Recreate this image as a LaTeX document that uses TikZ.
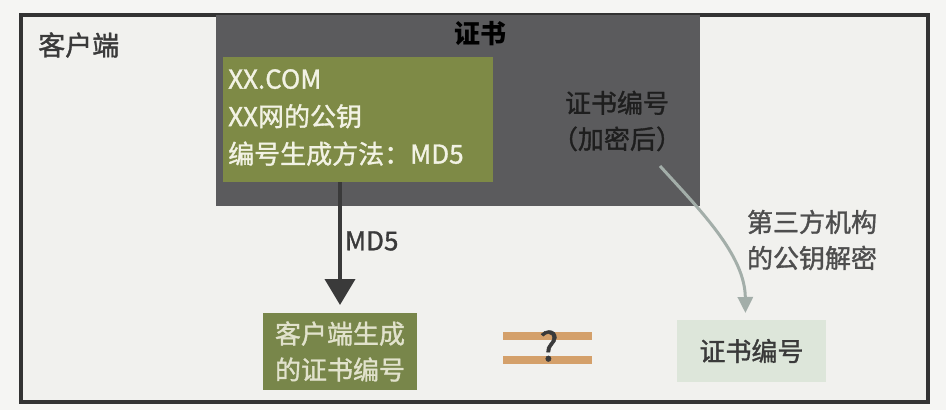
\documentclass[tikz,border=0pt]{standalone}
\usepackage{fontspec}
\setmainfont{Noto Sans CJK SC}
\newfontfamily\medfont{Noto Sans CJK SC}[FakeBold=1.3]
\usetikzlibrary{arrows.meta}
\definecolor{bgout}{HTML}{F5F5F3}
\definecolor{framefill}{HTML}{F1F1EE}
\definecolor{framedraw}{HTML}{333333}
\definecolor{certdark}{HTML}{5B5B5D}
\definecolor{olive}{HTML}{7E8A46}
\definecolor{olivedark}{HTML}{78864A}
\definecolor{palegreen}{HTML}{DDE6DA}
\definecolor{txtdark}{HTML}{3A3A3A}
\definecolor{enctext}{HTML}{1E1E1E}
\definecolor{txtlight}{HTML}{F2F2E4}
\definecolor{barorange}{HTML}{D4A06A}
\definecolor{arrowgray}{HTML}{A3AEA9}
\tikzset{
  box/.style={rectangle, inner sep=0pt, outer sep=0pt},
  lbl/.style={font=\medfont\fontsize{26}{36}\selectfont, text=txtdark, align=center, inner sep=0pt},
  bar/.style={rectangle, fill=barorange, inner sep=0pt, minimum width=89pt, minimum height=8pt},
}
\begin{document}
\begin{tikzpicture}[x=1pt,y=-1pt]
\useasboundingbox (0,0) rectangle (946,410);
\fill[bgout] (0,0) rectangle (946,410);
% outer frame
\node[box, draw=framedraw, line width=3.5pt, fill=framefill, minimum width=907pt, minimum height=387pt] (frame) at (474.5,208.5) {};
\node[lbl, anchor=west, font=\medfont\fontsize{27}{36}\selectfont] (client) at (38,45) {客户端};
% certificate box
\node[box, fill=certdark, minimum width=484pt, minimum height=191pt] (cert) at (458,110.5) {};
\node[lbl, text=black, font=\fontsize{26}{36}\selectfont\bfseries] (certtitle) at (480,34) {证书};
% info box
\node[box, fill=olive, minimum width=270pt, minimum height=125pt] (info) at (358,119.5) {};
\node[anchor=north west, inner sep=0pt, align=left, text=txtlight, font=\medfont\fontsize{26}{37.5}\selectfont] (infotext) at (228,69) {XX.COM\\XX网的公钥\\编号生成方法：MD5};
% encrypted number
\node[lbl, text=enctext] (enc) at (617,121) {\color{enctext}证书编号\\\color{enctext}（加密后）};
% generated box
\node[box, fill=olivedark, minimum width=154pt, minimum height=77pt] (gen) at (340,351.5) {};
\node[lbl, text=txtlight!85!olive] (gentext) at (gen) {客户端生成\\的证书编号};
% MD5 arrow
\coordinate (md5start) at (info.south -| gen.north);
\draw[line width=4pt, draw=txtdark, -{Triangle[width=30pt,length=26pt]}, shorten >=8pt] (md5start) -- (gen.north) node[pos=0.45, right=3pt, lbl] (md5lbl) {MD5};
% equality with question
\node[bar] (bar1) at (547.5,336) {};
\node[bar] (bar2) at (547.5,360) {};
\node[lbl, text=txtdark, font=\medfont\fontsize{40}{44}\selectfont] (qmark) at (549,346) {?};
% decrypted box
\node[box, fill=palegreen, minimum width=149pt, minimum height=62pt] (dec) at (751.5,351) {};
\node[lbl] (dectext) at (dec) {证书编号};
% curved arrow
\coordinate (curvestart) at (660,166);
\coordinate (decin) at ([xshift=-6pt]dec.north);
\draw[line width=3pt, draw=arrowgray, -{Triangle[width=15pt,length=16pt]}, shorten >=7pt] (curvestart) .. controls (700,210) and (745,255) .. (decin);
\node[lbl, text=txtdark!90] (thirdlbl) at (812,240) {第三方机构\\的公钥解密};
\end{tikzpicture}
\end{document}
